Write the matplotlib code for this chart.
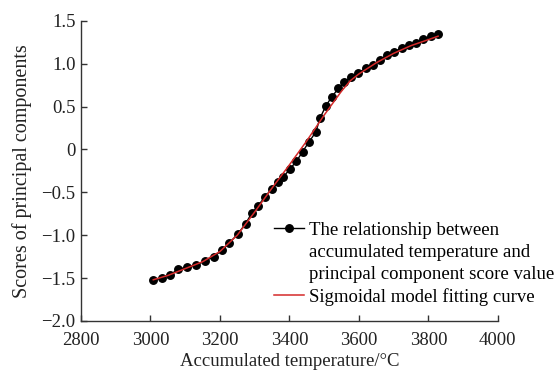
"""Principal component scores vs accumulated temperature, with sigmoidal fit."""

import matplotlib
matplotlib.use("Agg")
import matplotlib.pyplot as plt
from matplotlib.lines import Line2D

# Observed points (accumulated temperature, PC score)
temp_obs = [3008, 3032, 3056, 3080, 3105, 3131, 3157, 3182, 3205, 3227,
            3251, 3274, 3291, 3310, 3330, 3349, 3368, 3382, 3401, 3420,
            3438, 3456, 3476, 3488, 3505, 3522, 3541, 3558, 3577, 3598,
            3620, 3641, 3660, 3680, 3701, 3723, 3745, 3764, 3785, 3809, 3828]
score_obs = [-1.526, -1.495, -1.460, -1.400, -1.370, -1.350, -1.300, -1.252,
             -1.178, -1.090, -0.988, -0.866, -0.745, -0.656, -0.550, -0.460,
             -0.385, -0.324, -0.230, -0.140, -0.025, 0.085, 0.203, 0.365,
             0.508, 0.613, 0.711, 0.788, 0.847, 0.894, 0.945, 0.984, 1.042,
             1.101, 1.139, 1.179, 1.218, 1.245, 1.284, 1.323, 1.347]

# Sigmoidal fitting curve
temp_fit = [3008, 3050, 3100, 3150, 3200, 3250, 3300, 3350, 3400, 3450,
            3500, 3550, 3575, 3600, 3650, 3700, 3750, 3800, 3828]
score_fit = [-1.52, -1.47, -1.39, -1.31, -1.19, -1.00, -0.73, -0.45, -0.18,
             0.10, 0.40, 0.68, 0.80, 0.88, 1.01, 1.12, 1.21, 1.28, 1.32]

x_ticks = [2800, 3000, 3200, 3400, 3600, 3800, 4000]
y_ticks = [1.5, 1.0, 0.5, 0, -0.5, -1.0, -1.5, -2.0]
y_tick_labels = ["1.5", "1.0", "0.5", "0", "\u22120.5", "\u22121.0", "\u22121.5", "\u22122.0"]

legend_lines = ["The relationship between",
                "accumulated temperature and",
                "principal component score value",
                "Sigmoidal model fitting curve"]

FS = 13.5
RED = "#d42a2a"

plt.rcParams["font.family"] = ["Liberation Serif", "DejaVu Serif"]

fig = plt.figure(figsize=(5.55, 3.71), dpi=100)
ax = fig.add_axes([0.146, 0.135, 0.751, 0.809])

ax.plot(temp_obs, score_obs, color="black", lw=1.0, marker="o", ms=5.4,
        markerfacecolor="black", markeredgecolor="black", zorder=2)
ax.plot(temp_fit, score_fit, color=RED, lw=1.1, zorder=3)

ax.set_xlim(2800, 4000)
ax.set_ylim(-2.0, 1.5)
ax.set_xticks(x_ticks)
ax.set_yticks(y_ticks)
ax.set_yticklabels(y_tick_labels)

for side in ("top", "right"):
    ax.spines[side].set_visible(False)
for side in ("left", "bottom"):
    ax.spines[side].set_linewidth(1.0)
    ax.spines[side].set_color("#333333")
ax.tick_params(direction="in", length=4, width=1.0, color="#333333",
               labelsize=FS, labelcolor="#222222")
ax.tick_params(axis="x", pad=8)
ax.tick_params(axis="y", pad=4)

ax.set_xlabel("Accumulated temperature/\u00b0C", fontsize=FS, color="#222222", labelpad=3)
ax.set_ylabel("Scores of principal components", fontsize=14.5, color="#222222", labelpad=7)

# legend: first label spans three lines, handle sits on the first one
handles = [
    Line2D([], [], color="black", lw=1.0, marker="o", ms=5.4),
    Line2D([], [], color="none"),
    Line2D([], [], color="none"),
    Line2D([], [], color=RED, lw=1.1),
]
ax.legend(handles, legend_lines, loc="upper left", bbox_to_anchor=(0.462, 0.33),
          frameon=False, fontsize=FS, handlelength=1.6, handletextpad=0.3,
          labelspacing=0.26, borderaxespad=0.0, borderpad=0.0)

fig.savefig("out.png", dpi=100)
